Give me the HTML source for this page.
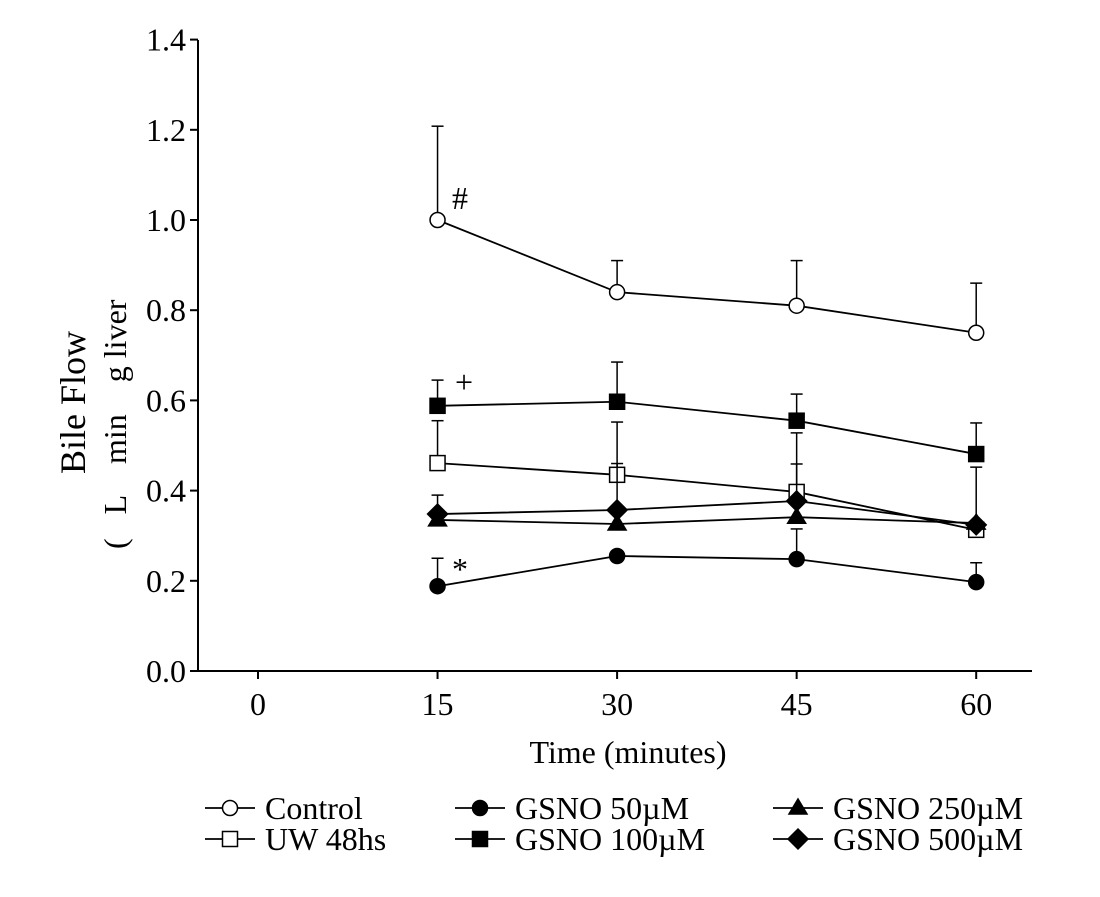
<!DOCTYPE html>
<html><head><meta charset="utf-8"><style>
body{margin:0;background:#fff}
text{font-family:"Liberation Serif",serif;fill:#000}
</style></head><body>
<svg id="c" width="1100" height="892">
<g id="axes"></g><g id="plot"></g>
<text transform="translate(85,474) rotate(-90)" text-anchor="start" font-size="36">Bile Flow</text>
<text transform="translate(126,549) rotate(-90)" text-anchor="start" font-size="32" xml:space="preserve">(   L    min    g liver</text>
<text x="628" y="763" text-anchor="middle" font-size="32">Time (minutes)</text>
<g id="legend"></g>
</svg>
<script>
const times=[15,30,45,60];
const xTicks=[0,15,30,45,60];
const yTicks=[0,0.2,0.4,0.6,0.8,1.0,1.2,1.4];
const names=["Control","UW 48hs","GSNO 50µM","GSNO 100µM","GSNO 250µM","GSNO 500µM"];
const markers=["circle-open","square-open","circle","square","triangle","diamond"];
const control=[1.0,0.84,0.81,0.75];
const uw=[0.461,0.435,0.397,0.313];
const g50=[0.188,0.255,0.248,0.197];
const g100=[0.588,0.597,0.555,0.481];
const g250=[0.335,0.326,0.341,0.328];
const g500=[0.348,0.357,0.377,0.324];
const controlErr=[1.208,0.91,0.91,0.86];
const uwErr=[0.555,0.552,0.528,0.452];
const g50Err=[0.25,null,0.315,0.24];
const g100Err=[0.645,0.685,0.614,0.55];
const g250Err=[0.39,0.46,0.459,null];
const g500Err=[null,null,null,null];
const series=[control,uw,g50,g100,g250,g500];
const errs=[controlErr,uwErr,g50Err,g100Err,g250Err,g500Err];
const X=t=>258+t*11.97, Y=v=>671-v*451;
const NS="http://www.w3.org/2000/svg";
function mk(tag,at,par){const e=document.createElementNS(NS,tag);for(const k in at)e.setAttribute(k,at[k]);par.appendChild(e);return e;}
const axes=document.getElementById('axes'),plot=document.getElementById('plot'),leg=document.getElementById('legend');
let e=mk('line',{x1:198,y1:40,x2:198,y2:671,stroke:'#000','stroke-width':2},axes);

e=mk('line',{x1:198,y1:671,x2:1032,y2:671,stroke:'#000','stroke-width':2},axes);

yTicks.forEach(v=>{mk('line',{x1:190,x2:198,y1:Y(v),y2:Y(v),stroke:'#000','stroke-width':2},axes);
 const t=mk('text',{x:186,y:Y(v)+11,'text-anchor':'end','font-size':32},axes);t.textContent=v.toFixed(1);
 });
xTicks.forEach(v=>{mk('line',{x1:X(v),x2:X(v),y1:671,y2:679,stroke:'#000','stroke-width':2},axes);
 const t=mk('text',{x:X(v),y:715,'text-anchor':'middle','font-size':32},axes);t.textContent=v;
 });
function marker(type,x,y,par){
 const fill=type.includes('open')?'#fff':'#000';const s={stroke:'#000','stroke-width':1.5,fill};
 if(type.startsWith('circle'))return mk('circle',Object.assign({cx:x,cy:y,r:7.5},s),par);
 if(type.startsWith('square'))return mk('rect',Object.assign({x:x-7.5,y:y-7.5,width:15,height:15},s),par);
 if(type==='triangle')return mk('polygon',Object.assign({points:`${x},${y-9} ${x+9},${y+6} ${x-9},${y+6}`},s),par);
 return mk('polygon',Object.assign({points:`${x},${y-10} ${x+10},${y} ${x},${y+10} ${x-10},${y}`},s),par);
}
series.forEach((d,i)=>{
 const g=mk('g',{},plot);
 
 
 errs[i].forEach((u,j)=>{if(u==null)return;mk('line',{x1:X(times[j]),x2:X(times[j]),y1:Y(d[j]),y2:Y(u),stroke:'#000','stroke-width':1.5},g);
  mk('line',{x1:X(times[j])-6,x2:X(times[j])+6,y1:Y(u),y2:Y(u),stroke:'#000','stroke-width':1.5},g);});
 mk('polyline',{points:d.map((v,j)=>X(times[j])+','+Y(v)).join(' '),fill:'none',stroke:'#000','stroke-width':1.8},g);
 d.forEach((v,j)=>{const m=marker(markers[i],X(times[j]),Y(v),g);
  });
});
[["#",460,209],["+",464,393],["*",460,580]].forEach(a=>{const t=mk('text',{x:a[1],y:a[2],'font-size':32,'text-anchor':'middle'},plot);t.textContent=a[0];
 });
const lpos=[[205,808],[205,839],[455,808],[455,839],[773,808],[773,839]];
names.forEach((n,i)=>{const [x,y]=lpos[i];const g=mk('g',{},leg);
 
 mk('line',{x1:x,x2:x+50,y1:y,y2:y,stroke:'#000','stroke-width':1.8},g);
 marker(markers[i],x+25,y,g);
 const t=mk('text',{x:x+60,y:y+11,'font-size':32},g);t.textContent=n;});
</script>
</body></html>
